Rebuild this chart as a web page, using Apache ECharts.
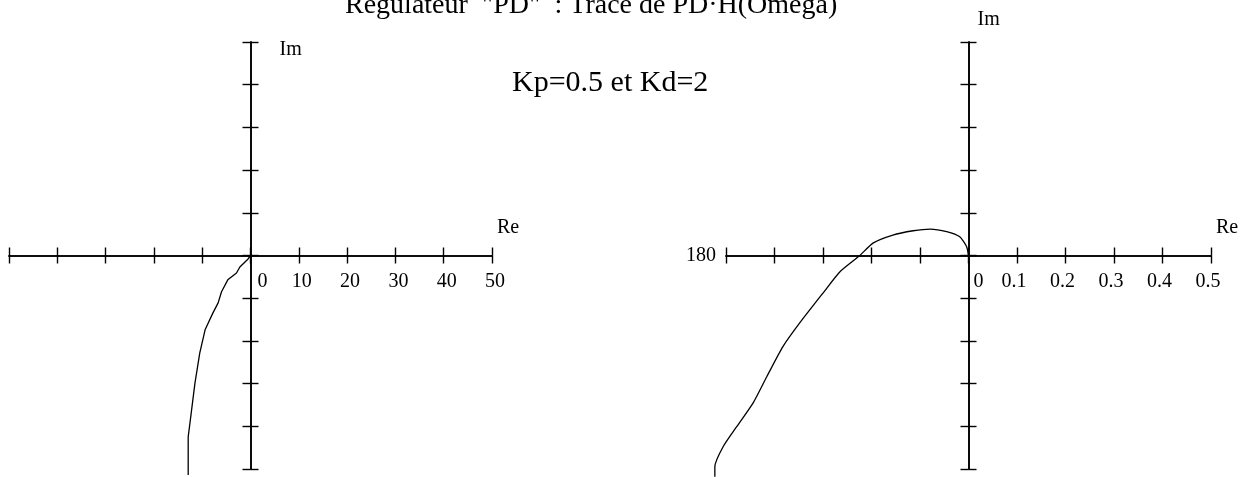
<!DOCTYPE html>
<html>
<head>
<meta charset="utf-8">
<title>Regulateur PD</title>
<script src="https://cdn.jsdelivr.net/npm/echarts@6/dist/echarts.min.js"></script>
<style>
  html, body { margin: 0; padding: 0; background: #fff; }
  #chart { width: 1260px; height: 477px; }
</style>
</head>
<body>
<div id="chart"></div>
<script>
// Nyquist locus of PD·H(jω), full view (left) and zoom near the origin (right)
const titleText = 'Regulateur  "PD"  : Trace de PD\u00b7H(Omega)';
const gainsText = 'Kp=0.5 et Kd=2';

// Left plane: Re from -50 to 50, Im from -50 to 50
const wideRe = [0, -0.5, -2.2, -2.9, -4.7, -6.0, -6.7, -7.8, -9.4, -10.5, -11.5, -12.2, -12.9, -12.9];
const wideIm = [0, -0.8, -2.7, -4.1, -5.7, -8.5, -11.1, -13.5, -17.4, -22.8, -29.9, -36.2, -42.5, -51.4];

// Right plane: Re from -0.5 to 0.5, Im from -0.5 to 0.5
const zoomRe = [0, -0.004, -0.018, -0.045, -0.079, -0.114, -0.156, -0.197, -0.224, -0.265, -0.300, -0.348, -0.383, -0.416, -0.444, -0.478, -0.506, -0.523, -0.523];
const zoomIm = [0, 0.021, 0.044, 0.056, 0.062, 0.058, 0.048, 0.029, 0.0, -0.038, -0.088, -0.158, -0.214, -0.284, -0.345, -0.401, -0.448, -0.495, -0.518];

const wideTicks = ['0', '10', '20', '30', '40', '50'];
const zoomTicks = ['0', '0.1', '0.2', '0.3', '0.4', '0.5'];
const leftEndLabel = '180';

const FONT = 'Liberation Serif';
const INK = '#000';

// Plot boxes; the axes cross in the middle of each box
const boxes = [
  { left: 9, top: 42, width: 483, height: 427 },
  { left: 726, top: 42, width: 485, height: 427 }
];
// The curves run slightly past the drawn axes, so they sit on hidden
// coordinate systems with the same scale but 20 % more room on every side.
const SPILL = 0.2;
function spillBox(b) {
  return {
    left: b.left - b.width * SPILL / 2, top: b.top - b.height * SPILL / 2,
    width: b.width * (1 + SPILL), height: b.height * (1 + SPILL)
  };
}

function pairs(xs, ys) { return xs.map((x, i) => [x, ys[i]]); }

function tickFormatter(labels, step) {
  return function (v) {
    if (v < -1e-9) return '';
    const idx = Math.round(v / step);
    const txt = labels[idx] || '';
    return idx === 0 ? '{z|' + txt + '}' : '{n|' + txt + '}';
  };
}

function xAxes(grid, lim, step, labels, zeroShift, otherShift, startName) {
  const mid = -boxes[grid].height / 2;
  const common = {
    gridIndex: grid, type: 'value', min: -lim, max: lim, interval: step,
    offset: mid,
    splitLine: { show: false },
    axisLine: { onZero: false, lineStyle: { color: INK, width: 1.6 } },
    axisTick: { show: true, length: 8, lineStyle: { color: INK, width: 1.4 } }
  };
  return [
    Object.assign({}, common, {
      position: 'bottom',
      name: 'Re', nameLocation: 'end', nameGap: 5,
      nameTextStyle: { fontFamily: FONT, fontSize: 20, color: INK, align: 'left', verticalAlign: 'bottom', padding: [0, 0, 18, 0] },
      axisLabel: {
        show: true, margin: 16, showMinLabel: true, showMaxLabel: true,
        formatter: tickFormatter(labels, step),
        rich: {
          z: { fontFamily: FONT, fontSize: 20, color: INK, padding: [0, 0, 0, zeroShift] },
          n: { fontFamily: FONT, fontSize: 20, color: INK, padding: otherShift >= 0 ? [0, 0, 0, otherShift] : [0, -otherShift, 0, 0] }
        }
      }
    }),
    Object.assign({}, common, {
      position: 'top',
      name: startName || '', nameLocation: 'start', nameGap: 10,
      nameTextStyle: { fontFamily: FONT, fontSize: 20, color: INK, align: 'right', verticalAlign: 'middle' },
      axisLabel: { show: false }
    })
  ];
}

function yAxes(grid, lim, step, nameGap, namePadLeft) {
  const mid = -boxes[grid].width / 2;
  const common = {
    gridIndex: grid, type: 'value', min: -lim, max: lim, interval: step,
    offset: mid,
    splitLine: { show: false },
    axisLine: { onZero: false, lineStyle: { color: INK, width: 1.6 } },
    axisTick: { show: true, length: 8, lineStyle: { color: INK, width: 1.4 } },
    axisLabel: { show: false }
  };
  return [
    Object.assign({}, common, {
      position: 'left',
      name: 'Im', nameLocation: 'end', nameGap: nameGap,
      nameTextStyle: { fontFamily: FONT, fontSize: 20, color: INK, align: 'left', verticalAlign: 'middle', padding: [0, 0, 0, namePadLeft] }
    }),
    Object.assign({}, common, { position: 'right' })
  ];
}

// Hidden axis with the same scale as a drawn one, widened by SPILL
function hiddenAxis(grid, lim) {
  const l = lim * (1 + SPILL);
  return { gridIndex: grid, type: 'value', min: -l, max: l, show: false, splitLine: { show: false } };
}

const chart = echarts.init(document.getElementById('chart'), null, { renderer: 'canvas' });

const grids = boxes.map(b => Object.assign({ outerBoundsMode: 'none', containLabel: false }, b))
  .concat(boxes.map(b => Object.assign({ outerBoundsMode: 'none', containLabel: false }, spillBox(b))));

chart.setOption({
  animation: false,
  backgroundColor: '#fff',
  title: [
    { text: titleText, left: 345, top: -8, padding: 0,
      textStyle: { fontFamily: FONT, fontSize: 28, fontWeight: 'normal', color: INK } },
    { text: gainsText, left: 512, top: 68, padding: 0,
      textStyle: { fontFamily: FONT, fontSize: 30, fontWeight: 'normal', color: INK } }
  ],
  grid: grids,
  xAxis: [].concat(
    xAxes(0, 50, 10, wideTicks, 24, 6),
    xAxes(1, 0.5, 0.1, zoomTicks, 20, -6, leftEndLabel),
    [hiddenAxis(2, 50), hiddenAxis(3, 0.5)]
  ),
  yAxis: [].concat(
    yAxes(0, 50, 10, -8, 29),
    yAxes(1, 0.5, 0.1, 22, 9),
    [hiddenAxis(2, 50), hiddenAxis(3, 0.5)]
  ),
  series: [
    { type: 'line', xAxisIndex: 4, yAxisIndex: 4, data: pairs(wideRe, wideIm),
      showSymbol: false, clip: false, lineStyle: { color: INK, width: 1.3 } },
    { type: 'line', xAxisIndex: 5, yAxisIndex: 5, data: pairs(zoomRe, zoomIm),
      showSymbol: false, clip: false, smooth: 0.2, lineStyle: { color: INK, width: 1.3 } }
  ]
});
</script>
</body>
</html>
